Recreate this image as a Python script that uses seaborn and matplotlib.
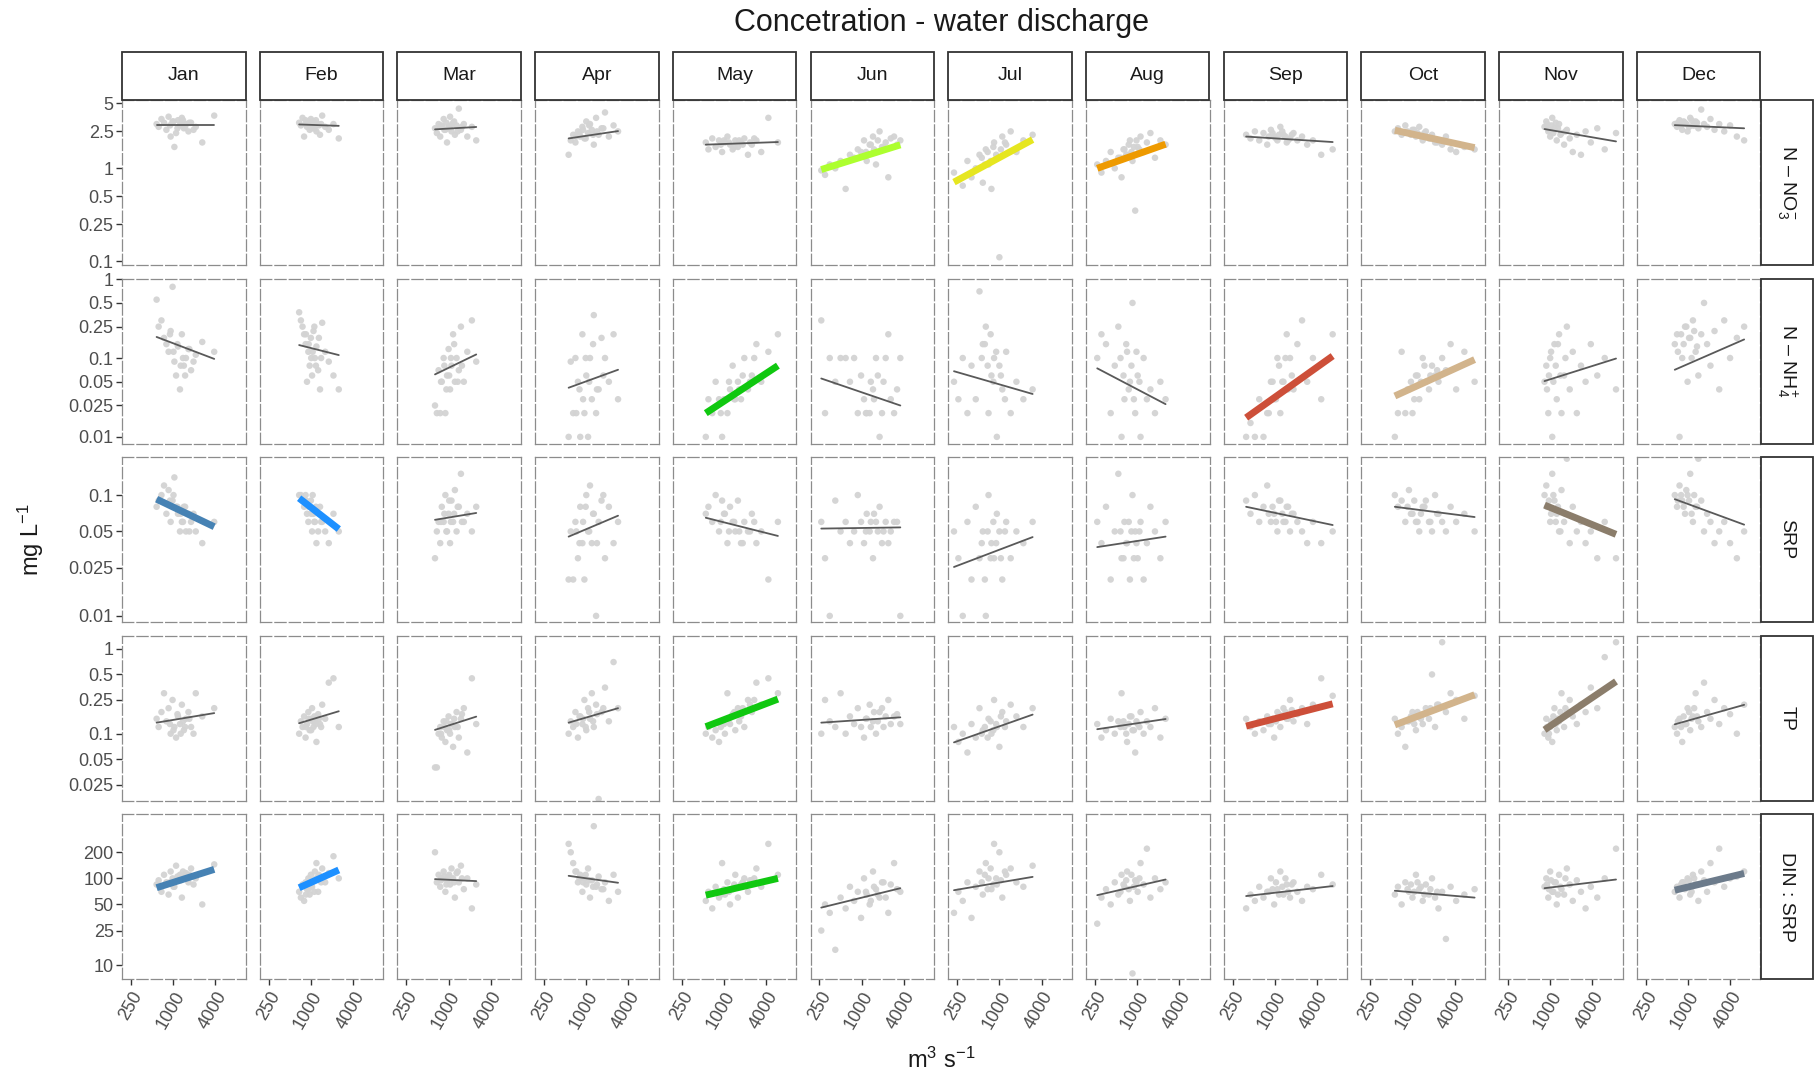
import matplotlib
matplotlib.use("Agg")
import matplotlib.pyplot as plt
import seaborn as sns
import pandas as pd
from matplotlib.patches import Rectangle
from matplotlib.ticker import NullLocator

# ---------------------------------------------------------------- data
months = ["Jan", "Feb", "Mar", "Apr", "May", "Jun",
          "Jul", "Aug", "Sep", "Oct", "Nov", "Dec"]

# water discharge (m3 s-1) of the sampling days, per month
discharge = [
    [580, 620, 680, 740, 800, 860, 920, 980, 1040, 1100, 1170, 1250, 1330, 1420, 1520, 1650, 1800, 2100, 2600, 3850, 900, 1010, 1150, 1280, 1380, 1480, 1700, 1950],
    [680, 720, 760, 800, 840, 880, 920, 960, 1000, 1040, 1090, 1140, 1200, 1270, 1350, 1450, 1600, 1800, 2100, 2500, 850, 930, 1010, 1060, 1120, 1180, 1300, 1400],
    [640, 680, 720, 760, 800, 850, 900, 950, 1000, 1050, 1100, 1160, 1230, 1300, 1400, 1500, 1650, 1850, 2150, 2480, 780, 870, 930, 1020, 1080, 1200, 1350, 1550],
    [560, 600, 650, 700, 760, 820, 880, 940, 1000, 1060, 1130, 1200, 1280, 1380, 1500, 1650, 1850, 2100, 2450, 2840, 720, 800, 900, 980, 1100, 1250, 1420, 1750],
    [550, 600, 680, 760, 850, 940, 1030, 1120, 1220, 1330, 1450, 1580, 1750, 1950, 2200, 2500, 2900, 3400, 4300, 5880, 900, 1000, 1180, 1400, 1650, 1850, 2350, 2700],
    [265, 300, 350, 420, 500, 590, 680, 780, 880, 980, 1080, 1180, 1300, 1450, 1600, 1800, 2050, 2400, 2900, 3560, 1150, 1350, 1500, 1700, 1950, 2200, 2600, 3200],
    [225, 260, 300, 350, 400, 460, 520, 580, 640, 700, 770, 840, 920, 1000, 1100, 1250, 1450, 1750, 2200, 2980, 560, 620, 680, 750, 820, 900, 1050, 1200],
    [270, 310, 360, 420, 480, 540, 600, 660, 720, 790, 860, 940, 1020, 1120, 1240, 1380, 1550, 1800, 2150, 2550, 580, 640, 700, 760, 830, 900, 980, 1080],
    [390, 450, 520, 600, 690, 780, 880, 980, 1090, 1200, 1330, 1480, 1650, 1850, 2100, 2450, 2900, 3500, 4600, 6700, 820, 930, 1040, 1150, 1280, 1420, 1550, 1750],
    [560, 620, 700, 790, 890, 1000, 1120, 1250, 1400, 1550, 1720, 1900, 2100, 2350, 2650, 3000, 3500, 4200, 5500, 7700, 850, 950, 1060, 1180, 1320, 1480, 1800, 2250],
    [830, 880, 940, 1000, 1070, 1150, 1240, 1340, 1450, 1580, 1730, 1900, 2100, 2400, 2750, 3200, 3800, 4700, 6000, 8700, 900, 960, 1030, 1110, 1200, 1290, 1400, 1650],
    [650, 700, 760, 830, 910, 990, 1080, 1180, 1290, 1410, 1550, 1700, 1880, 2100, 2400, 2800, 3300, 4000, 5000, 6350, 720, 800, 870, 950, 1040, 1130, 1230, 1350],
]

# concentrations (mg L-1) per month
no3 = [
    [3.0, 2.8, 3.4, 3.1, 2.6, 3.6, 2.2, 3.2, 1.7, 2.4, 3.3, 2.9, 3.5, 2.7, 3.0, 2.5, 3.1, 2.8, 1.9, 3.7, 2.9, 3.2, 2.7, 3.0, 3.3, 2.8, 3.1, 2.6],
    [3.1, 2.9, 3.5, 2.2, 3.3, 2.8, 3.0, 2.6, 3.4, 2.7, 3.2, 2.9, 2.5, 3.0, 2.3, 3.7, 2.8, 2.6, 3.0, 2.1, 3.0, 3.2, 2.8, 3.1, 2.7, 3.3, 2.9, 3.0],
    [2.7, 2.4, 3.0, 2.2, 2.9, 3.4, 2.6, 1.9, 2.8, 3.6, 2.5, 3.1, 2.3, 2.9, 4.4, 2.6, 3.0, 2.2, 2.8, 2.0, 2.8, 2.6, 3.1, 2.7, 2.9, 3.2, 2.5, 2.8],
    [1.4, 2.0, 2.3, 1.9, 2.5, 2.2, 2.8, 2.1, 3.2, 2.4, 3.0, 2.6, 1.8, 3.5, 2.3, 2.7, 4.0, 2.2, 2.9, 2.5, 2.2, 2.4, 2.6, 2.1, 2.9, 2.3, 2.5, 2.7],
    [1.9, 1.6, 2.1, 1.7, 2.0, 1.5, 1.9, 2.2, 1.8, 1.6, 2.0, 1.7, 1.9, 2.1, 1.4, 1.8, 2.0, 1.5, 3.5, 1.9, 1.8, 2.0, 1.9, 1.7, 2.0, 1.8, 1.9, 2.1],
    [0.95, 0.85, 1.1, 1.0, 1.2, 0.6, 1.4, 1.3, 1.6, 1.5, 2.0, 1.2, 1.8, 2.2, 1.1, 2.5, 1.7, 0.8, 2.2, 2.0, 1.5, 1.8, 1.6, 2.0, 1.7, 1.9, 2.1, 1.8],
    [0.9, 0.75, 0.65, 1.2, 0.8, 1.0, 1.4, 0.7, 1.6, 1.1, 0.6, 1.9, 1.3, 0.11, 2.2, 1.8, 2.5, 1.5, 2.0, 2.3, 1.3, 1.1, 1.5, 1.2, 1.7, 1.4, 1.6, 1.9],
    [1.1, 0.9, 1.2, 1.5, 1.0, 1.3, 0.8, 1.6, 1.4, 2.0, 1.2, 0.35, 1.7, 2.2, 1.5, 1.9, 2.4, 1.3, 2.0, 1.8, 1.3, 1.6, 1.4, 1.8, 1.5, 1.7, 2.0, 1.6],
    [2.3, 2.1, 2.5, 2.0, 2.4, 1.8, 2.6, 2.2, 2.0, 2.8, 2.3, 1.9, 2.1, 2.4, 2.0, 2.2, 1.8, 2.0, 1.4, 1.6, 2.2, 2.4, 2.1, 2.3, 2.5, 2.2, 2.0, 2.3],
    [2.5, 2.7, 2.3, 2.9, 2.4, 2.6, 2.2, 2.8, 2.0, 2.5, 2.1, 2.3, 1.9, 2.0, 1.8, 2.2, 1.6, 1.5, 1.7, 1.6, 2.5, 2.3, 2.6, 2.4, 2.2, 2.4, 2.1, 1.9],
    [2.8, 3.2, 2.5, 2.2, 3.5, 2.7, 2.0, 3.0, 2.4, 1.8, 2.6, 2.1, 1.5, 2.3, 1.4, 2.5, 1.9, 2.7, 1.6, 2.4, 3.0, 2.6, 2.9, 2.4, 3.1, 2.7, 2.3, 2.5],
    [3.0, 2.8, 3.3, 2.6, 3.1, 2.5, 3.5, 2.9, 3.2, 2.7, 4.3, 3.0, 2.8, 3.4, 2.6, 3.0, 2.5, 2.9, 2.2, 2.0, 3.1, 2.9, 3.2, 3.0, 2.8, 3.3, 2.9, 3.1],
]
nh4 = [
    [0.55, 0.25, 0.3, 0.18, 0.15, 0.12, 0.22, 0.8, 0.09, 0.06, 0.14, 0.04, 0.2, 0.08, 0.1, 0.13, 0.07, 0.11, 0.16, 0.12, 0.2, 0.12, 0.15, 0.08, 0.1, 0.06, 0.13, 0.09],
    [0.38, 0.3, 0.25, 0.2, 0.15, 0.05, 0.12, 0.08, 0.18, 0.06, 0.22, 0.1, 0.14, 0.07, 0.04, 0.28, 0.12, 0.09, 0.06, 0.04, 0.2, 0.15, 0.1, 0.12, 0.25, 0.08, 0.18, 0.1],
    [0.025, 0.02, 0.07, 0.02, 0.05, 0.1, 0.02, 0.06, 0.13, 0.04, 0.08, 0.2, 0.05, 0.1, 0.07, 0.25, 0.05, 0.12, 0.3, 0.09, 0.05, 0.08, 0.04, 0.06, 0.1, 0.15, 0.05, 0.08],
    [0.01, 0.09, 0.02, 0.1, 0.05, 0.01, 0.2, 0.02, 0.06, 0.01, 0.1, 0.03, 0.35, 0.02, 0.04, 0.18, 0.1, 0.05, 0.2, 0.03, 0.02, 0.04, 0.03, 0.1, 0.05, 0.15, 0.04, 0.06],
    [0.01, 0.03, 0.02, 0.05, 0.03, 0.01, 0.03, 0.02, 0.04, 0.08, 0.03, 0.05, 0.03, 0.1, 0.04, 0.06, 0.15, 0.05, 0.12, 0.2, 0.02, 0.03, 0.05, 0.03, 0.04, 0.06, 0.05, 0.1],
    [0.3, 0.02, 0.1, 0.05, 0.1, 0.1, 0.05, 0.1, 0.02, 0.06, 0.03, 0.02, 0.02, 0.04, 0.1, 0.01, 0.05, 0.2, 0.02, 0.1, 0.02, 0.05, 0.03, 0.06, 0.02, 0.1, 0.03, 0.04],
    [0.05, 0.03, 0.1, 0.02, 0.08, 0.03, 0.7, 0.15, 0.25, 0.02, 0.06, 0.1, 0.01, 0.08, 0.04, 0.12, 0.02, 0.05, 0.03, 0.04, 0.1, 0.15, 0.08, 0.2, 0.05, 0.12, 0.06, 0.03],
    [0.1, 0.2, 0.15, 0.02, 0.08, 0.25, 0.01, 0.03, 0.12, 0.05, 0.5, 0.02, 0.06, 0.01, 0.1, 0.03, 0.04, 0.02, 0.05, 0.03, 0.1, 0.06, 0.15, 0.04, 0.08, 0.03, 0.12, 0.05],
    [0.01, 0.015, 0.01, 0.03, 0.01, 0.02, 0.05, 0.03, 0.1, 0.02, 0.05, 0.2, 0.1, 0.04, 0.15, 0.3, 0.05, 0.1, 0.03, 0.2, 0.02, 0.05, 0.03, 0.08, 0.05, 0.1, 0.04, 0.06],
    [0.01, 0.02, 0.12, 0.02, 0.04, 0.02, 0.06, 0.03, 0.1, 0.05, 0.04, 0.08, 0.06, 0.05, 0.1, 0.07, 0.15, 0.04, 0.12, 0.05, 0.04, 0.05, 0.03, 0.06, 0.05, 0.08, 0.06, 0.07],
    [0.05, 0.08, 0.02, 0.1, 0.01, 0.15, 0.03, 0.2, 0.02, 0.06, 0.25, 0.04, 0.12, 0.02, 0.08, 0.05, 0.15, 0.06, 0.1, 0.04, 0.04, 0.06, 0.12, 0.05, 0.08, 0.15, 0.06, 0.1],
    [0.15, 0.2, 0.01, 0.1, 0.25, 0.05, 0.18, 0.3, 0.12, 0.06, 0.2, 0.5, 0.15, 0.08, 0.22, 0.04, 0.3, 0.1, 0.18, 0.25, 0.12, 0.2, 0.15, 0.25, 0.18, 0.1, 0.22, 0.14],
]
srp = [
    [0.08, 0.09, 0.1, 0.12, 0.07, 0.11, 0.06, 0.09, 0.14, 0.08, 0.07, 0.05, 0.06, 0.08, 0.05, 0.07, 0.06, 0.05, 0.04, 0.06, 0.09, 0.1, 0.08, 0.07, 0.06, 0.08, 0.05, 0.07],
    [0.1, 0.1, 0.09, 0.08, 0.1, 0.07, 0.06, 0.08, 0.09, 0.05, 0.07, 0.06, 0.04, 0.05, 0.08, 0.06, 0.05, 0.04, 0.07, 0.05, 0.09, 0.08, 0.07, 0.1, 0.06, 0.08, 0.07, 0.06],
    [0.03, 0.05, 0.06, 0.04, 0.08, 0.06, 0.1, 0.05, 0.07, 0.04, 0.09, 0.06, 0.11, 0.05, 0.08, 0.15, 0.06, 0.07, 0.05, 0.08, 0.06, 0.07, 0.05, 0.09, 0.06, 0.07, 0.08, 0.06],
    [0.02, 0.05, 0.02, 0.06, 0.03, 0.08, 0.04, 0.02, 0.1, 0.05, 0.12, 0.04, 0.07, 0.01, 0.06, 0.09, 0.03, 0.08, 0.04, 0.06, 0.05, 0.04, 0.06, 0.08, 0.05, 0.07, 0.04, 0.1],
    [0.07, 0.08, 0.06, 0.1, 0.05, 0.09, 0.07, 0.04, 0.08, 0.06, 0.05, 0.09, 0.04, 0.06, 0.05, 0.07, 0.04, 0.05, 0.02, 0.06, 0.06, 0.07, 0.05, 0.06, 0.05, 0.04, 0.05, 0.06],
    [0.06, 0.03, 0.01, 0.09, 0.05, 0.06, 0.04, 0.05, 0.1, 0.06, 0.04, 0.07, 0.05, 0.03, 0.06, 0.08, 0.05, 0.04, 0.06, 0.01, 0.05, 0.06, 0.07, 0.05, 0.04, 0.06, 0.05, 0.06],
    [0.05, 0.03, 0.01, 0.06, 0.02, 0.08, 0.03, 0.05, 0.01, 0.1, 0.04, 0.03, 0.07, 0.05, 0.02, 0.06, 0.03, 0.05, 0.04, 0.06, 0.04, 0.02, 0.05, 0.03, 0.06, 0.04, 0.03, 0.05],
    [0.06, 0.04, 0.08, 0.02, 0.05, 0.15, 0.03, 0.06, 0.04, 0.02, 0.1, 0.05, 0.03, 0.06, 0.02, 0.04, 0.08, 0.05, 0.03, 0.06, 0.05, 0.03, 0.04, 0.06, 0.05, 0.03, 0.04, 0.05],
    [0.09, 0.07, 0.1, 0.06, 0.08, 0.12, 0.06, 0.07, 0.05, 0.09, 0.06, 0.08, 0.05, 0.07, 0.06, 0.05, 0.04, 0.06, 0.04, 0.05, 0.07, 0.08, 0.06, 0.09, 0.07, 0.06, 0.08, 0.07],
    [0.1, 0.08, 0.09, 0.06, 0.11, 0.07, 0.06, 0.05, 0.08, 0.09, 0.06, 0.05, 0.1, 0.07, 0.06, 0.05, 0.08, 0.06, 0.07, 0.05, 0.08, 0.07, 0.09, 0.06, 0.07, 0.08, 0.06, 0.07],
    [0.1, 0.12, 0.08, 0.06, 0.15, 0.09, 0.07, 0.05, 0.11, 0.06, 0.2, 0.04, 0.08, 0.05, 0.06, 0.04, 0.05, 0.03, 0.06, 0.03, 0.08, 0.09, 0.07, 0.1, 0.06, 0.08, 0.05, 0.07],
    [0.1, 0.08, 0.12, 0.09, 0.07, 0.1, 0.15, 0.06, 0.08, 0.2, 0.09, 0.05, 0.07, 0.06, 0.04, 0.05, 0.06, 0.04, 0.03, 0.05, 0.09, 0.1, 0.08, 0.11, 0.09, 0.07, 0.1, 0.08],
]
tp = [
    [0.15, 0.12, 0.18, 0.3, 0.14, 0.2, 0.1, 0.25, 0.12, 0.09, 0.16, 0.13, 0.22, 0.11, 0.15, 0.18, 0.12, 0.3, 0.16, 0.2, 0.13, 0.11, 0.17, 0.1, 0.14, 0.12, 0.15, 0.1],
    [0.1, 0.14, 0.12, 0.16, 0.09, 0.13, 0.18, 0.11, 0.15, 0.2, 0.12, 0.14, 0.08, 0.17, 0.13, 0.22, 0.15, 0.4, 0.45, 0.12, 0.12, 0.15, 0.11, 0.14, 0.16, 0.13, 0.15, 0.12],
    [0.04, 0.04, 0.1, 0.12, 0.09, 0.14, 0.08, 0.11, 0.16, 0.1, 0.13, 0.07, 0.12, 0.18, 0.09, 0.15, 0.2, 0.06, 0.45, 0.13, 0.1, 0.12, 0.14, 0.11, 0.13, 0.15, 0.12, 0.17],
    [0.1, 0.14, 0.12, 0.18, 0.09, 0.16, 0.13, 0.25, 0.11, 0.2, 0.15, 0.3, 0.12, 0.22, 0.017, 0.18, 0.35, 0.14, 0.7, 0.2, 0.13, 0.16, 0.15, 0.12, 0.18, 0.14, 0.17, 0.2],
    [0.1, 0.12, 0.09, 0.11, 0.08, 0.14, 0.1, 0.3, 0.13, 0.17, 0.11, 0.2, 0.16, 0.12, 0.25, 0.18, 0.4, 0.22, 0.45, 0.3, 0.12, 0.13, 0.15, 0.18, 0.14, 0.2, 0.22, 0.25],
    [0.1, 0.25, 0.14, 0.12, 0.3, 0.1, 0.16, 0.13, 0.2, 0.12, 0.09, 0.15, 0.22, 0.14, 0.1, 0.18, 0.12, 0.25, 0.16, 0.13, 0.15, 0.12, 0.18, 0.14, 0.2, 0.16, 0.13, 0.17],
    [0.12, 0.08, 0.1, 0.06, 0.13, 0.09, 0.2, 0.11, 0.015, 0.15, 0.1, 0.25, 0.12, 0.07, 0.18, 0.14, 0.22, 0.16, 0.12, 0.2, 0.1, 0.12, 0.09, 0.14, 0.11, 0.13, 0.16, 0.12],
    [0.13, 0.09, 0.11, 0.15, 0.1, 0.14, 0.3, 0.12, 0.08, 0.16, 0.11, 0.06, 0.13, 0.18, 0.1, 0.14, 0.12, 0.2, 0.09, 0.15, 0.12, 0.14, 0.1, 0.13, 0.16, 0.11, 0.14, 0.12],
    [0.15, 0.12, 0.1, 0.14, 0.11, 0.16, 0.13, 0.09, 0.18, 0.12, 0.2, 0.15, 0.25, 0.14, 0.17, 0.2, 0.13, 0.22, 0.45, 0.28, 0.13, 0.15, 0.14, 0.17, 0.16, 0.18, 0.15, 0.19],
    [0.15, 0.1, 0.12, 0.07, 0.14, 0.18, 0.11, 0.16, 0.13, 0.2, 0.15, 0.5, 0.12, 0.22, 1.2, 0.18, 0.3, 0.25, 0.15, 0.28, 0.14, 0.16, 0.13, 0.18, 0.15, 0.17, 0.2, 0.22],
    [0.1, 0.15, 0.09, 0.12, 0.08, 0.2, 0.11, 0.14, 0.3, 0.12, 0.18, 0.25, 0.16, 0.13, 0.22, 0.18, 0.35, 0.2, 0.8, 1.2, 0.12, 0.1, 0.14, 0.16, 0.13, 0.15, 0.18, 0.2],
    [0.12, 0.1, 0.15, 0.08, 0.13, 0.2, 0.11, 0.16, 0.3, 0.14, 0.12, 0.4, 0.18, 0.15, 0.25, 0.13, 0.2, 0.17, 0.1, 0.22, 0.14, 0.12, 0.16, 0.13, 0.18, 0.15, 0.2, 0.16],
]
din_srp = [
    [85, 95, 70, 110, 90, 65, 120, 100, 80, 140, 95, 110, 60, 105, 115, 90, 130, 100, 50, 145, 90, 80, 105, 95, 120, 100, 110, 85],
    [70, 60, 85, 55, 90, 75, 100, 65, 110, 80, 95, 120, 150, 70, 105, 130, 90, 115, 180, 100, 65, 75, 85, 95, 70, 100, 110, 90],
    [200, 90, 110, 80, 100, 120, 70, 95, 105, 85, 130, 100, 60, 115, 90, 140, 75, 100, 45, 85, 95, 105, 85, 110, 100, 90, 120, 100],
    [250, 200, 150, 120, 90, 110, 70, 100, 85, 130, 60, 95, 400, 80, 105, 75, 90, 55, 110, 70, 120, 100, 90, 110, 95, 80, 85, 75],
    [55, 70, 45, 80, 60, 150, 65, 90, 50, 75, 110, 60, 85, 100, 70, 95, 130, 80, 250, 110, 65, 75, 70, 85, 80, 90, 95, 100],
    [25, 50, 40, 15, 60, 45, 80, 55, 70, 35, 100, 65, 50, 120, 75, 60, 90, 40, 150, 70, 70, 55, 80, 65, 90, 60, 85, 75],
    [40, 70, 55, 90, 35, 80, 120, 65, 150, 100, 75, 250, 85, 200, 60, 110, 130, 90, 80, 140, 90, 110, 75, 130, 85, 100, 95, 120],
    [30, 60, 75, 50, 90, 65, 110, 80, 120, 55, 8, 95, 70, 150, 85, 220, 60, 100, 75, 90, 70, 85, 95, 75, 110, 80, 90, 100],
    [45, 65, 55, 80, 60, 70, 100, 50, 75, 120, 65, 85, 60, 90, 70, 55, 80, 75, 110, 85, 70, 75, 90, 65, 80, 100, 70, 85],
    [65, 80, 50, 90, 70, 60, 110, 75, 55, 85, 65, 100, 60, 45, 70, 20, 80, 55, 65, 75, 75, 85, 70, 90, 80, 65, 75, 70],
    [80, 100, 60, 120, 70, 90, 50, 110, 75, 65, 130, 85, 55, 95, 70, 45, 80, 60, 100, 220, 85, 75, 95, 70, 90, 65, 80, 100],
    [70, 80, 60, 90, 75, 100, 65, 110, 85, 55, 120, 95, 70, 150, 90, 220, 80, 100, 105, 120, 75, 85, 90, 80, 95, 70, 100, 85],
]

# fitted power-law lines: value at lowest and at highest discharge of the month
no3_fit = [(2.95, 2.95), (2.97, 2.87), (2.63, 2.79), (2.10, 2.52), (1.80, 1.92), (0.97, 1.79),
           (0.71, 2.04), (1.0, 1.82), (2.20, 1.92), (2.57, 1.67), (2.65, 1.95), (2.92, 2.70)]
nh4_fit = [(0.185, 0.0975), (0.146, 0.109), (0.062, 0.111), (0.042, 0.071), (0.020, 0.080), (0.055, 0.025),
           (0.068, 0.035), (0.074, 0.026), (0.0175, 0.106), (0.033, 0.0955), (0.051, 0.0985), (0.071, 0.172)]
srp_fit = [(0.0925, 0.0547), (0.0942, 0.0523), (0.0624, 0.0711), (0.0453, 0.0675), (0.0649, 0.0459), (0.0528, 0.054),
           (0.0254, 0.0449), (0.0371, 0.0453), (0.080, 0.0565), (0.080, 0.0658), (0.0826, 0.0473), (0.0925, 0.0569)]
tp_fit = [(0.135, 0.175), (0.133, 0.184), (0.111, 0.159), (0.135, 0.20), (0.121, 0.256), (0.135, 0.156),
          (0.079, 0.168), (0.113, 0.149), (0.123, 0.225), (0.127, 0.288), (0.111, 0.413), (0.129, 0.219)]
din_srp_fit = [(78, 127), (78, 125), (98, 93), (107, 89), (64, 100), (46, 77),
               (73, 104), (64, 97), (62.5, 81.5), (72, 60), (77, 97), (73, 114)]

# months with a significant relationship
no3_sig = ["Jun", "Jul", "Aug", "Oct"]
nh4_sig = ["May", "Sep", "Oct"]
srp_sig = ["Jan", "Feb", "Nov"]
tp_sig = ["May", "Sep", "Oct", "Nov"]
din_srp_sig = ["Jan", "Feb", "May", "Dec"]

month_colors = {"Jan": "#4682B4", "Feb": "#1E90FF", "May": "#10C810", "Jun": "#ADFF2F",
                "Jul": "#E6E620", "Aug": "#EE9A00", "Sep": "#CD4F39", "Oct": "#D2B48C",
                "Nov": "#8B7D6B", "Dec": "#6C7B8B"}

row_labels = ["N – NO$_{3}^{-}$", "N – NH$_{4}^{+}$", "SRP", "TP", "DIN : SRP"]
row_values = [no3, nh4, srp, tp, din_srp]
row_fits = [no3_fit, nh4_fit, srp_fit, tp_fit, din_srp_fit]
row_sig = [no3_sig, nh4_sig, srp_sig, tp_sig, din_srp_sig]
row_ylims = [(0.0908, 5.45), (0.00824, 1.02), (0.0089, 0.2066), (0.0163, 1.44), (6.9, 553)]
row_yticks = [[0.1, 0.25, 0.5, 1, 2.5, 5],
              [0.01, 0.025, 0.05, 0.1, 0.25, 0.5, 1],
              [0.01, 0.025, 0.05, 0.1],
              [0.025, 0.05, 0.1, 0.25, 0.5, 1],
              [10, 25, 50, 100, 200]]
x_ticks = [250, 1000, 4000]
x_lim = (186, 10800)

# ---------------------------------------------------------------- style
sns.set_theme(style="white")
plt.rcParams["font.family"] = ["Liberation Sans", "DejaVu Sans"]
plt.rcParams["mathtext.fontset"] = "custom"
plt.rcParams["mathtext.rm"] = "Liberation Sans"
plt.rcParams["mathtext.it"] = "Liberation Sans"

W, H = 1820, 1081
fig = plt.figure(figsize=(W / 100, H / 100), dpi=100)
fig.patch.set_facecolor("white")

col_left = [122 + 137.7 * c for c in range(12)]
row_top = [100 + 178.5 * r for r in range(5)]
pw, ph = 123.6, 165

point_color = "#D3D3D3"
line_grey = "#595959"
border_col = "#8C8C8C"
text_col = "#4D4D4D"


def fig_rect(x0, y0, w, h):
    return [x0 / W, 1 - (y0 + h) / H, w / W, h / H]


for r in range(5):
    for c, m in enumerate(months):
        ax = fig.add_axes(fig_rect(col_left[c], row_top[r], pw, ph))
        ax.set_xscale("log")
        ax.set_yscale("log")
        q = discharge[c]
        vals = row_values[r][c]
        pts = pd.DataFrame({"discharge": q, "conc": vals})
        sns.scatterplot(data=pts, x="discharge", y="conc", ax=ax, color=point_color,
                        s=22, linewidth=0, edgecolor="none", alpha=0.95, zorder=1)

        start, end = row_fits[r][c]
        fit = pd.DataFrame({"discharge": [min(q), max(q)], "conc": [start, end]})
        if m in row_sig[r]:
            sns.lineplot(data=fit, x="discharge", y="conc", ax=ax, color=month_colors[m],
                         lw=5.0, solid_capstyle="butt", zorder=3)
        else:
            sns.lineplot(data=fit, x="discharge", y="conc", ax=ax, color=line_grey,
                         lw=1.3, zorder=3)

        ax.set_xlim(*x_lim)
        ax.set_ylim(*row_ylims[r])
        ax.set_xlabel("")
        ax.set_ylabel("")
        ax.xaxis.set_minor_locator(NullLocator())
        ax.yaxis.set_minor_locator(NullLocator())
        ax.set_facecolor("white")
        for sp in ax.spines.values():
            sp.set_visible(True)
            sp.set_linestyle((0, (9, 2.5)))
            sp.set_edgecolor(border_col)
            sp.set_linewidth(0.9)

        if c == 0:
            ax.set_yticks(row_yticks[r], labels=[f"{t:g}" for t in row_yticks[r]])
            ax.tick_params(axis="y", left=True, length=4, width=1.0, color="#333333",
                           labelsize=13, labelcolor=text_col, pad=2)
        else:
            ax.set_yticks([])
        if r == 4:
            ax.set_xticks(x_ticks, labels=[str(t) for t in x_ticks])
            ax.tick_params(axis="x", bottom=True, length=4, width=1.0, color="#333333",
                           labelsize=13, labelcolor=text_col, pad=3)
            for lab in ax.get_xticklabels():
                lab.set_rotation(60)
                lab.set_ha("right")
                lab.set_va("top")
                lab.set_rotation_mode("anchor")
        else:
            ax.set_xticks([])

# month strips along the top
for c, m in enumerate(months):
    fig.add_artist(Rectangle((col_left[c] / W, 1 - 99.5 / H), pw / W, 47.5 / H,
                             transform=fig.transFigure, facecolor="white",
                             edgecolor="#333333", lw=1.3, zorder=5))
    fig.text((col_left[c] + pw / 2) / W, 1 - 75.5 / H, m, ha="center", va="center",
             fontsize=14, color="#1A1A1A", zorder=6)

# variable strips on the right
for r, lab in enumerate(row_labels):
    fig.add_artist(Rectangle((1760.5 / W, 1 - (row_top[r] + ph) / H), 52.5 / W, ph / H,
                             transform=fig.transFigure, facecolor="white",
                             edgecolor="#333333", lw=1.3, zorder=5))
    fig.text(1787 / W, 1 - (row_top[r] + ph / 2) / H, lab, ha="center", va="center",
             rotation=270, fontsize=14, color="#1A1A1A", zorder=6)

fig.text(941 / W, 1 - 23 / H, "Concetration - water discharge", ha="center", va="center",
         fontsize=22, color="#1A1A1A")
fig.text(31 / W, 1 - 540 / H, "mg L$^{-1}$", ha="center", va="center", rotation=90,
         fontsize=17, color="#1A1A1A")
fig.text(941 / W, 1 - 1060 / H, "m$^{3}$ s$^{-1}$", ha="center", va="center",
         fontsize=17, color="#1A1A1A")

fig.savefig("out.png", dpi=100, facecolor="white")
